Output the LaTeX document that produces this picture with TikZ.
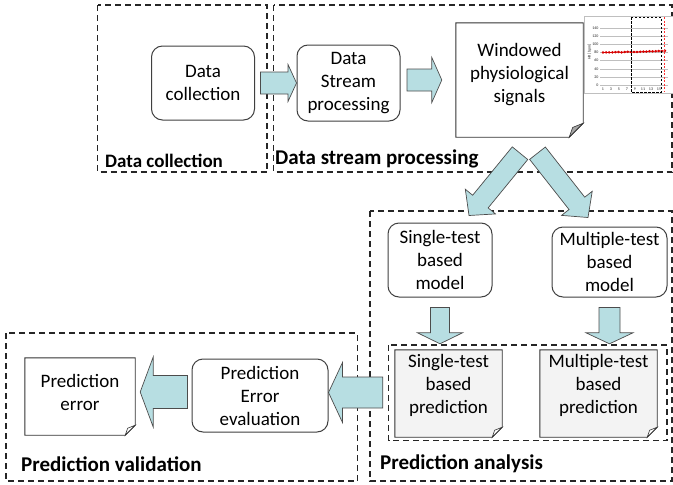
\documentclass[tikz,border=0pt]{standalone}
\usepackage{fontspec}
\setmainfont{Carlito}
\usetikzlibrary{calc,backgrounds}

\definecolor{arrowcyan}{RGB}{183,222,226}
\definecolor{docgray}{RGB}{243,243,243}

\newcommand{\fatarrow}[5]{%
  \coordinate (fa-base) at ($(#2)!#5!(#1)$);
  \draw[fat] ($(#1)!#3!90:(#2)$) -- ($(fa-base)!#3!90:(#2)$)
    -- ($(fa-base)!#4!90:(#2)$) -- (#2)
    -- ($(fa-base)!#4!-90:(#2)$) -- ($(fa-base)!#3!-90:(#2)$)
    -- ($(#1)!#3!-90:(#2)$) -- cycle;
}

\begin{document}
\begin{tikzpicture}[
            x=1pt,y=-1pt,
            font=\fontsize{19}{23}\selectfont,
            node distance=145.5pt,
            proc/.style={draw=black!75,line width=1pt,rounded corners=11pt,fill=white,align=center,inner sep=2pt},
            doc/.style={align=center,inner sep=2pt},
            grp/.style={draw=black!85,line width=1.2pt,dash pattern=on 6pt off 4pt},
            grplabel/.style={font=\fontsize{21}{25}\selectfont\bfseries,anchor=base west,inner sep=0pt},
            fat/.style={draw=black!70,fill=arrowcyan,line width=0.7pt},
            docline/.style={draw=black!80,line width=0.9pt},
            tick/.style={font=\fontsize{4}{4.5}\selectfont,inner sep=0.3pt,text=black!85}
        ]
        \useasboundingbox (0,0) rectangle (673,485);

        \draw[grp] (97.5,5) rectangle (267,172);
        \draw[grp] (273.5,5) rectangle (672,172);
        \draw[grp] (370,211) rectangle (672,481);
        \draw[grp] (388.5,345) rectangle (667,440.5);
        \draw[grp] (6,333) rectangle (357.5,481);

        \node[grplabel,font=\fontsize{19}{23}\selectfont\bfseries] (lcol) at (105,167) {Data collection};
        \node[grplabel] (lstr) at (275,164) {Data stream processing};
        \node[grplabel] (lval) at (21,471) {Prediction validation};
        \node[grplabel] (lana) at (380,469) {Prediction analysis};

        \node[proc,minimum width=103,minimum height=74] (dc) at (203,83) {Data\\collection};
        \node[proc,minimum width=103,minimum height=76] (ds) [right of=dc] {Data\\Stream\\processing};
        \node[doc,minimum width=127,minimum height=104] (win) at (519.5,75) {Windowed\\physiological\\signals};
        \node[proc,minimum width=104,minimum height=74] (smod) at (440,260) {Single-test\\based\\model};
        \node[proc,minimum width=115,minimum height=70] (mmod) at (609.5,262) {Multiple-test\\based\\model};
        \node[doc,minimum width=107,minimum height=71] (spred) at (448.5,385.5) {Single-test\\based\\prediction};
        \node[doc,minimum width=117,minimum height=71] (mpred) [right of=spred,node distance=150pt] {Multiple-test\\based\\prediction};
        \node[proc,minimum width=136,minimum height=73] (ev) at (260,395.5) {Prediction\\Error\\evaluation};
        \node[doc,minimum width=110,minimum height=69] (perr) at (80,392.5) {Prediction\\error};

        % sheets with a turned corner, drawn behind their text
        \begin{scope}[on background layer]
            \foreach \nd/\fl/\ex/\fc/\pc in {win/14/10/white/black!35,perr/10/8/white/white,
                spred/10/16/docgray/white,mpred/10/16/docgray/white} {
                \filldraw[docline,fill=\fc] (\nd.north west) -- (\nd.north east)
                    -- ($(\nd.south east)+(0,\ex-\fl)$) -- ($(\nd.south east)+(-\fl,\ex)$)
                    -- ($(\nd.south west)+(0,\ex)$) -- cycle;
                \filldraw[docline,line width=0.6pt,fill=\pc] ($(\nd.south east)+(0,\ex-\fl)$)
                    -- ($(\nd.south east)+(-0.75*\fl,\ex-0.7*\fl)$) -- ($(\nd.south east)+(-\fl,\ex)$) -- cycle;
            }
        \end{scope}

        % heart rate strip
        \fill[white] (584,16.5) rectangle (673,93);
        \draw[black!25,line width=0.5pt] (584,16.5) rectangle (676,93);
        \foreach \v [count=\k from 0] in {0,20,...,140} {
            \draw[black!25,line width=0.4pt] (600,85-8.14*\k) -- (668,85-8.14*\k);
            \node[tick,anchor=east] (yt\k) at (599,85-8.14*\k) {\v};
        }
        \foreach \i [count=\k from 0] in {1,3,...,15}
            \node[tick] (xt\k) at (603+8*\k,89.5) {\i};
        \node[tick,rotate=90] (hrlab) at (589.5,52) {HR [bpm]};
        \draw[red!85!black,line width=0.8pt] plot[mark=*,mark size=0.8pt] coordinates {
            (603,52.4) (606.1,52.4) (609.2,52.4) (612.3,52.4) (615.4,52.2) (618.5,52.0) (621.6,52.4)
            (624.7,52.0) (627.8,51.8) (630.9,52.0) (634,52.0) (637.1,52.0) (640.2,51.8) (643.3,51.6)
            (646.4,51.6) (649.5,51.2) (652.6,51.4) (655.7,51.2) (658.8,51.0) (661.9,51.2) (665,50.8)};
        \draw[black,line width=0.8pt,dash pattern=on 2.5pt off 1.5pt] (631,17) rectangle (661,92);
        \draw[red!80,line width=0.8pt,dash pattern=on 2pt off 1.5pt] (664,17) -- (664,92);

        \coordinate (a1s) at ($(dc.east)+(5.5,0)$);
        \coordinate (a1e) at (ds.west);
        \coordinate (a2s) at ($(ds.east)+(6.5,-3)$);
        \coordinate (a2e) at ($(win.west)+(-14,5)$);
        \coordinate (a3s) at ($(win.south)+(0.5,26)$);
        \coordinate (a3e) at ($(smod.north)+(29,-7)$);
        \coordinate (a4s) at ($(win.south)+(18,26)$);
        \coordinate (a4e) at ($(mmod.north)+(-21.5,-9)$);
        \coordinate (a5s) at ($(smod.south)+(0,10)$);
        \coordinate (a5e) at ($(smod.south |- spred.north)+(0,-6)$);
        \coordinate (a6s) at ($(mmod.south)+(0,10)$);
        \coordinate (a6e) at ($(mmod.south |- mpred.north)+(0,-6)$);
        \coordinate (a7s) at ($(spred.west |- ev.east)+(-12,-3)$);
        \coordinate (a7e) at ($(ev.east)+(0,-3)$);
        \coordinate (a8s) at ($(ev.west)+(-4,-3.5)$);
        \coordinate (a8e) at ($(perr.east)+(5,-0.5)$);

        \fatarrow{a1s}{a1e}{11pt}{18.5pt}{8.5pt}
        \fatarrow{a2s}{a2e}{11pt}{22.5pt}{10pt}
        \fatarrow{a4s}{a4e}{10pt}{19.5pt}{18pt}
        \fatarrow{a3s}{a3e}{10pt}{19.5pt}{18pt}
        \fatarrow{a5s}{a5e}{9.5pt}{22.5pt}{11pt}
        \fatarrow{a6s}{a6e}{10.5pt}{23.5pt}{11pt}
        \fatarrow{a7s}{a7e}{15.5pt}{30pt}{14pt}
        \fatarrow{a8s}{a8e}{16.5pt}{35pt}{13pt}
        \end{tikzpicture}
\end{document}
